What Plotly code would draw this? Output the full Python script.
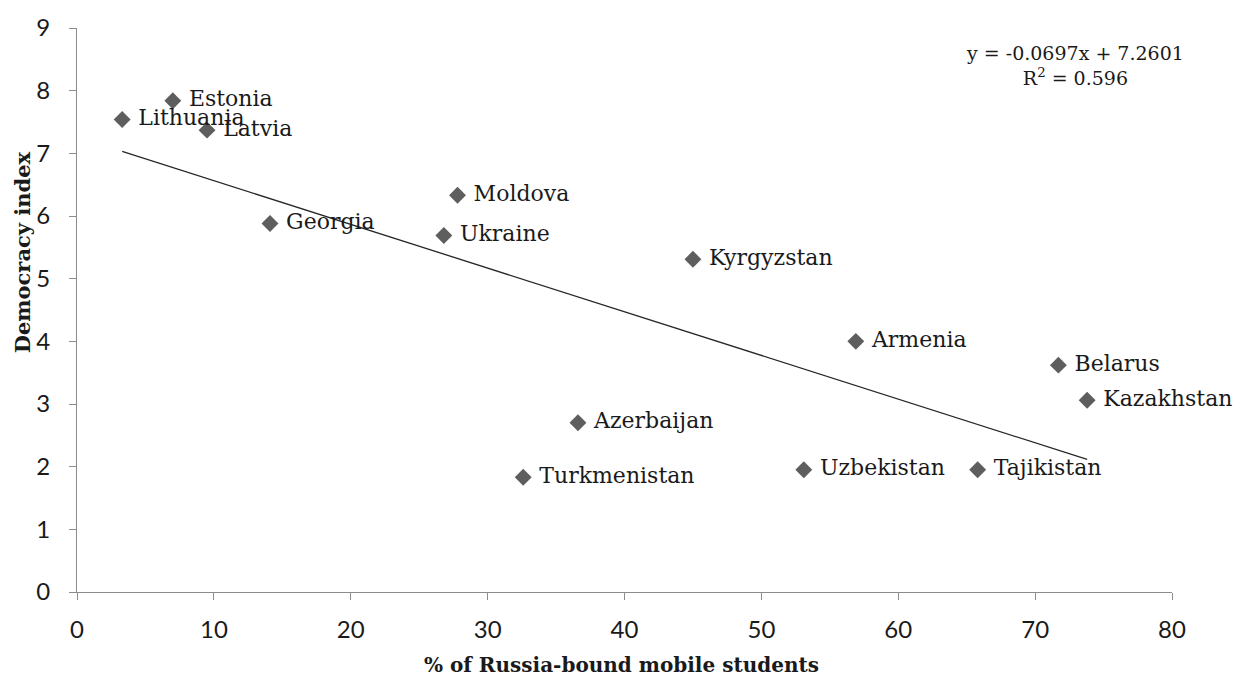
import plotly.graph_objects as go

# Share of mobile students heading to Russia vs. democracy index
countries = ["Lithuania", "Estonia", "Latvia", "Georgia", "Moldova", "Ukraine",
             "Kyrgyzstan", "Armenia", "Belarus", "Kazakhstan", "Azerbaijan",
             "Turkmenistan", "Uzbekistan", "Tajikistan"]
russia_share = [3.3, 7.0, 9.5, 14.1, 27.8, 26.8, 45.0, 56.9, 71.7, 73.8, 36.6, 32.6, 53.1, 65.8]
democracy = [7.54, 7.84, 7.37, 5.88, 6.33, 5.69, 5.31, 4.0, 3.62, 3.06, 2.7, 1.83, 1.95, 1.95]

# Linear trend fitted to the points
slope = -0.0697
intercept = 7.2601
r_squared = 0.596

x_ticks = [0, 10, 20, 30, 40, 50, 60, 70, 80]
y_ticks = [0, 1, 2, 3, 4, 5, 6, 7, 8, 9]

serif = "DejaVu Serif, Liberation Serif, serif"
sans = "Lato, Open Sans, sans-serif"

fig = go.Figure()

x_lo, x_hi = min(russia_share), max(russia_share)
fig.add_trace(go.Scatter(
    x=[x_lo, x_hi],
    y=[slope * x_lo + intercept, slope * x_hi + intercept],
    mode="lines",
    line=dict(color="#262626", width=1.3),
    hoverinfo="skip",
    showlegend=False,
))

fig.add_trace(go.Scatter(
    x=russia_share,
    y=democracy,
    mode="markers+text",
    text=[" " + c for c in countries],
    textposition="middle right",
    textfont=dict(family=serif, size=22, color="#1a1a1a"),
    marker=dict(symbol="diamond", size=13, color="#5e5e5e"),
    cliponaxis=False,
    showlegend=False,
))

axis_common = dict(
    showgrid=False,
    zeroline=False,
    showline=True,
    linecolor="#8c8c8c",
    linewidth=1.2,
    ticks="outside",
    tickcolor="#8c8c8c",
    ticklen=7,
    tickfont=dict(family=sans, size=24, color="#1a1a1a"),
)

fig.update_xaxes(range=[0, 80], tickvals=x_ticks, ticklabelstandoff=9, **axis_common)
fig.update_yaxes(range=[0, 9], tickvals=y_ticks, ticklabelstandoff=14, **axis_common)

fig.add_annotation(
    x=0.497, y=-0.130, xref="paper", yref="paper",
    text="<b>% of Russia-bound mobile students</b>",
    showarrow=False, xanchor="center", yanchor="middle",
    font=dict(family=serif, size=20, color="#1a1a1a"),
)
fig.add_annotation(
    x=-0.049, y=0.603, xref="paper", yref="paper",
    text="<b>Democracy index</b>", textangle=-90,
    showarrow=False, xanchor="center", yanchor="middle",
    font=dict(family=serif, size=21, color="#1a1a1a"),
)
fig.add_annotation(
    x=0.911, y=0.934, xref="paper", yref="paper",
    text=f"y = {slope}x + {intercept}<br>R<sup>2</sup> = {r_squared}",
    showarrow=False, xanchor="center", yanchor="middle", align="center",
    font=dict(family=serif, size=19, color="#1a1a1a"),
)

fig.update_layout(
    width=1241, height=678,
    margin=dict(l=77, r=69, t=17, b=86),
    paper_bgcolor="white",
    plot_bgcolor="white",
)

fig.write_html("out.html")
